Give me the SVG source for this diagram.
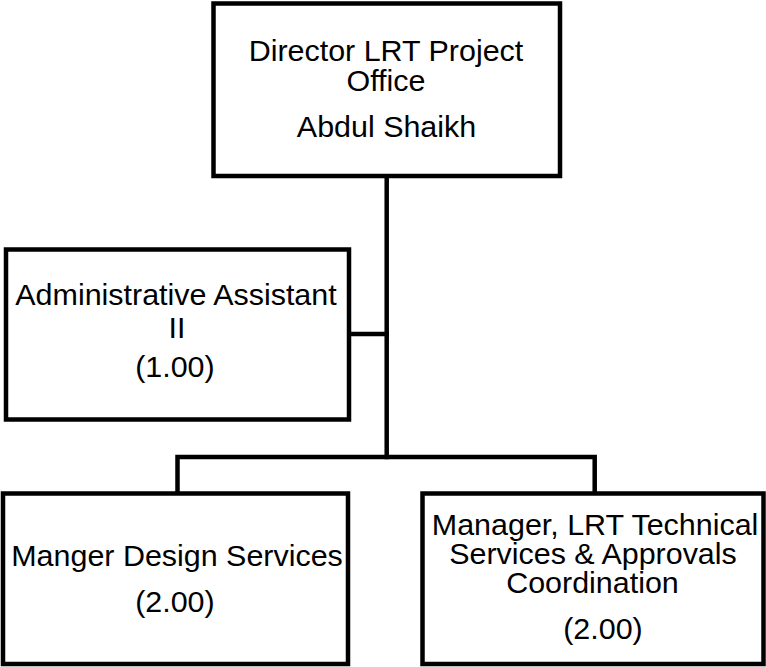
<svg xmlns="http://www.w3.org/2000/svg" width="766" height="667" viewBox="0 0 766 667">
<style>
.box{fill:#fff;stroke:#000;stroke-width:4.5}
.ln{fill:none;stroke:#000;stroke-width:4.5;stroke-linecap:square}
text{font-family:"Liberation Sans",Arial,sans-serif;fill:#000;text-anchor:middle;font-size:29px}
</style>
<g id="connectors">
<path class="ln" d="M386.7,177 V457"/>
<path class="ln" d="M349,334 H386.7"/>
<path class="ln" d="M177.5,493 V457 H594.7 V493"/>
</g>
<g id="director">
<rect class="box" x="213.5" y="3.5" width="346.5" height="172.5"/>
<g transform="matrix(1.05,0,0,1,-19.3,0)">
<text x="386" y="61">Director LRT Project</text>
<text x="386" y="91.5">Office</text>
<text x="386.5" y="137.5">Abdul Shaikh</text>
</g>
</g>
<g id="admin">
<rect class="box" x="6" y="249.5" width="343" height="170"/>
<g transform="matrix(1.05,0,0,1,-8.8,0)">
<text x="176" y="305">Administrative Assistant</text>
<text x="177" y="338">II</text>
<text x="175" y="377">(1.00)</text>
</g>
</g>
<g id="design">
<rect class="box" x="3" y="493.5" width="345" height="170.5"/>
<g transform="matrix(1.05,0,0,1,-8.8,0)">
<text x="177" y="566.5">Manger Design Services</text>
<text x="175" y="612">(2.00)</text>
</g>
</g>
<g id="technical">
<rect class="box" x="422.5" y="493.5" width="341" height="170.5"/>
<g transform="matrix(1.05,0,0,1,-29.65,0)">
<text x="595" y="535">Manager, LRT Technical</text>
<text x="593" y="564">Services &amp; Approvals</text>
<text x="592.5" y="593">Coordination</text>
<text x="602.5" y="639">(2.00)</text>
</g>
</g>
</svg>
